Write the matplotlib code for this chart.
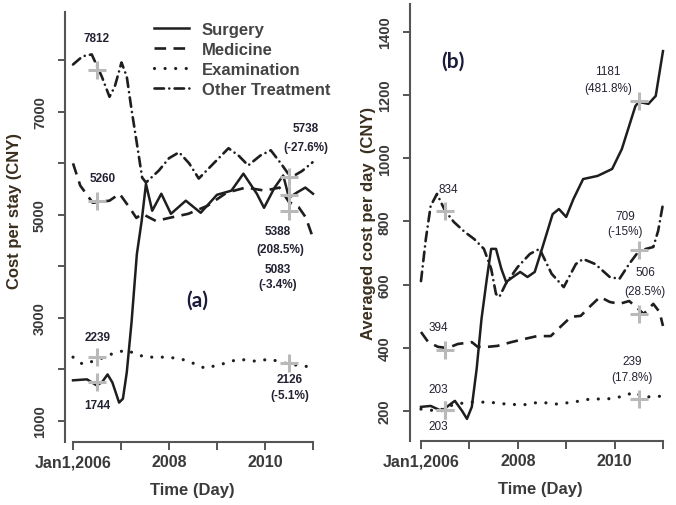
import matplotlib
matplotlib.use('Agg')
import matplotlib.pyplot as plt

plt.rcParams['font.family'] = ['Liberation Sans', 'DejaVu Sans']

# ---- panel (a): cost per stay (CNY) ----
a_surg_t = [2006.0, 2006.29, 2006.49, 2006.6, 2006.72, 2006.82, 2006.96, 2007.04, 2007.12,
            2007.22, 2007.33, 2007.43, 2007.52, 2007.65, 2007.84, 2008.04, 2008.35, 2008.66,
            2009.0, 2009.3, 2009.55, 2009.83, 2009.98, 2010.2, 2010.38, 2010.5, 2010.66,
            2010.84, 2011.0]
a_surg_v = [1786, 1805, 1690, 1745, 1900, 1745, 1354, 1430, 1940, 2920, 4236, 4880, 5600,
            5080, 5410, 5020, 5275, 5040, 5390, 5470, 5800, 5410, 5137, 5530, 5765, 5333,
            5430, 5530, 5410]
a_med_t = [2006.0, 2006.15, 2006.41, 2006.76, 2006.97, 2007.18, 2007.32, 2007.44, 2007.73,
           2008.0, 2008.4, 2008.8, 2009.2, 2009.6, 2010.0, 2010.3, 2010.5, 2010.7, 2010.85,
           2011.0]
a_med_v = [6000, 5570, 5235, 5275, 5410, 5137, 4940, 5020, 4880, 4940, 5020, 5175, 5430,
           5530, 5470, 5530, 5250, 5150, 4950, 4550]
a_exam_t = [2006.0, 2006.2, 2006.5, 2006.8, 2007.1, 2007.5, 2008.0, 2008.35, 2008.75,
            2009.1, 2009.45, 2009.8, 2010.1, 2010.5, 2011.0]
a_exam_v = [2236, 2100, 2178, 2295, 2374, 2236, 2236, 2178, 2021, 2100, 2197, 2158, 2197,
            2100, 2040]
a_oth_t = [2006.0, 2006.2, 2006.39, 2006.6, 2006.76, 2006.87, 2007.01, 2007.12, 2007.22,
           2007.33, 2007.44, 2007.52, 2007.79, 2008.0, 2008.21, 2008.42, 2008.62, 2008.93,
           2009.24, 2009.45, 2009.65, 2009.9, 2010.12, 2010.33, 2010.54, 2010.77, 2010.99]
a_oth_v = [7920, 8080, 8116, 7685, 7293, 7490, 7960, 7685, 7040, 6390, 5725, 5627, 5862,
           6100, 6215, 6000, 5705, 6000, 6294, 6150, 5960, 6150, 6254, 6000, 5725, 5850, 6020]
a_mark_t = [2006.5, 2006.5, 2006.5, 2006.5, 2010.5, 2010.5, 2010.5, 2010.5]
a_mark_v = [7812, 5260, 2239, 1744, 5738, 5388, 5083, 2126]

# ---- panel (b): averaged cost per day (CNY) ----
b_surg_t = [2006.0, 2006.2, 2006.43, 2006.56, 2006.7, 2006.85, 2006.95, 2007.05, 2007.15,
            2007.25, 2007.36, 2007.45, 2007.55, 2007.66, 2007.76, 2007.9, 2008.05, 2008.2,
            2008.35, 2008.5, 2008.72, 2008.85, 2009.0, 2009.15, 2009.35, 2009.65, 2009.95,
            2010.15, 2010.43, 2010.5, 2010.7, 2010.85, 2011.0]
b_surg_v = [213, 216, 200, 216, 232, 200, 175, 213, 333, 491, 618, 713, 713, 650, 608, 624,
            640, 624, 640, 713, 823, 839, 814, 871, 934, 944, 966, 1029, 1165, 1178, 1172,
            1197, 1339]
b_med_t = [2006.0, 2006.15, 2006.35, 2006.55, 2006.76, 2007.05, 2007.17, 2007.38, 2007.58,
           2007.87, 2008.14, 2008.4, 2008.68, 2008.9, 2009.1, 2009.3, 2009.5, 2009.7, 2009.9,
           2010.1, 2010.3, 2010.45, 2010.6, 2010.8, 2010.93, 2011.0]
b_med_v = [450, 418, 403, 399, 412, 418, 403, 403, 406, 418, 428, 437, 437, 469, 498, 501,
           532, 561, 545, 539, 548, 529, 507, 539, 513, 469]
b_exam_t = [2006.0, 2006.35, 2006.7, 2007.05, 2007.4, 2007.75, 2008.1, 2008.45, 2008.8,
            2009.15, 2009.5, 2009.85, 2010.2, 2010.4, 2010.6, 2011.0]
b_exam_v = [206, 200, 222, 228, 228, 222, 219, 228, 222, 228, 238, 238, 247, 260, 244, 247]
b_oth_t = [2006.0, 2006.1, 2006.2, 2006.33, 2006.5, 2006.68, 2006.9, 2007.1, 2007.3, 2007.45,
           2007.55, 2007.62, 2007.75, 2008.0, 2008.25, 2008.45, 2008.7, 2008.95, 2009.2,
           2009.35, 2009.6, 2009.9, 2010.1, 2010.3, 2010.5, 2010.65, 2010.8, 2010.9, 2011.0]
b_oth_v = [611, 744, 849, 887, 833, 798, 767, 744, 713, 650, 570, 561, 602, 656, 697, 713,
           634, 592, 665, 681, 665, 624, 618, 665, 706, 713, 719, 770, 855]
b_mark_t = [2006.5, 2006.5, 2006.5, 2006.5, 2010.5, 2010.5, 2010.5, 2010.5]
b_mark_v = [834, 394, 203, 203, 1181, 709, 506, 239]

series_names = ['Surgery', 'Medicine', 'Examination', 'Other Treatment']
years = [2006, 2007, 2008, 2009, 2010, 2011]
year_labels = ['Jan1,2006', '', '2008', '', '2010', '']

INK = '#1e1e1e'
TXT = '#222233'
AX = '#555555'
LBL = '#3a3a3a'
CROSS = '#b9b9b9'

styles = [
    dict(ls='-', lw=1.8),
    dict(ls=(0, (4.4, 2.8)), lw=1.9),
    dict(ls=(0, (0.01, 3.3)), lw=2.3, dash_capstyle='round'),
    dict(ls=(0, (3.6, 2.0, 0.01, 2.0)), lw=1.9, dash_capstyle='round'),
]


def style_axes(ax, ylabel, yticks, ylabels):
    for s in ('top', 'right'):
        ax.spines[s].set_visible(False)
    ax.spines['left'].set_color(AX)
    ax.spines['left'].set_linewidth(1.5)
    ax.spines['bottom'].set_color(AX)
    ax.spines['bottom'].set_linewidth(1.5)
    ax.spines['bottom'].set_bounds(2006, 2011)
    ax.set_xticks(years)
    ax.set_xticklabels(year_labels, fontsize=11.5, color=LBL, fontweight='bold')
    ax.set_yticks(yticks)
    ax.set_yticklabels(ylabels, fontsize=10.5, color=LBL, fontweight='bold')
    for lbl in ax.get_yticklabels():
        lbl.set_rotation(90)
        lbl.set_va('center')
    ax.tick_params(axis='x', direction='out', length=6, width=1.4, color=AX, pad=3)
    ax.tick_params(axis='y', direction='out', length=5, width=1.4, color=AX, pad=8)
    ax.set_xlabel('Time (Day)', fontsize=12, color=LBL, fontweight='bold', labelpad=9)
    ax.set_ylabel(ylabel, fontsize=12, color='#3a2f1e', fontweight='bold')


def draw_series(ax, data):
    for (t, v), st, name in zip(data, styles, series_names):
        ax.plot(t, v, color=INK, label=name, **st)


fig = plt.figure(figsize=(6.76, 5.06), dpi=100)

# panel (a)
ax1 = fig.add_axes([65 / 676, 63 / 506, 255 / 676, 430 / 506])
draw_series(ax1, [(a_surg_t, a_surg_v), (a_med_t, a_med_v),
                  (a_exam_t, a_exam_v), (a_oth_t, a_oth_v)])
ax1.plot(a_mark_t, a_mark_v, '+', color=CROSS, ms=13, mew=2.2, zorder=5)
ax1.set_xlim(2005.833, 2011.146)
ax1.set_ylim(588, 8940)
style_axes(ax1, 'Cost per stay (CNY)', list(range(1000, 8001, 1000)),
           ['1000', '', '3000', '', '5000', '', '7000', ''])
ax1.yaxis.set_label_coords(-0.168, 0.54)

ann_a = [
    ('7812', 2006.5, 8430), ('5260', 2006.62, 5725),
    ('5738', 2010.85, 6686), ('(-27.6%)', 2010.85, 6313),
    ('5388', 2010.27, 4686), ('(208.5%)', 2010.31, 4334),
    ('5083', 2010.27, 3942), ('(-3.4%)', 2010.27, 3648),
    ('2239', 2006.52, 2628), ('1744', 2006.5, 1315),
    ('2126', 2010.52, 1805), ('(-5.1%)', 2010.52, 1492),
]
for s, x, y in ann_a:
    ax1.text(x, y, s, fontsize=8.5, color=TXT, ha='center', va='center', fontweight='bold')
ax1.text(2008.58, 3354, '(a)', fontsize=15, fontweight='bold', color='#1a1a3a',
         family='Lato', ha='center', va='center')

leg = ax1.legend(loc='upper left', bbox_to_anchor=(154 / 676, 1 - 23 / 506),
                 bbox_transform=fig.transFigure, frameon=False,
                 prop={'size': 12, 'weight': 'bold'},
                 handlelength=2.1, handletextpad=0.75, labelspacing=0.3,
                 borderaxespad=0, borderpad=0)
for t in leg.get_texts():
    t.set_color('#444444')

# panel (b)
ax2 = fig.add_axes([410 / 676, 64 / 506, 260 / 676, 437 / 506])
draw_series(ax2, [(b_surg_t, b_surg_v), (b_med_t, b_med_v),
                  (b_exam_t, b_exam_v), (b_oth_t, b_oth_v)])
ax2.plot(b_mark_t, b_mark_v, '+', color=CROSS, ms=13, mew=2.2, zorder=5)
ax2.set_xlim(2005.773, 2011.145)
ax2.set_ylim(105, 1488)
bt = list(range(200, 1401, 200))
style_axes(ax2, 'Averaged cost per day  (CNY)', bt, [str(v) for v in bt])
ax2.yaxis.set_label_coords(-0.132, 0.5)

ann_b = [
    ('834', 2006.56, 903),
    ('1181', 2009.86, 1276), ('(481.8%)', 2009.86, 1222),
    ('709', 2010.21, 817), ('(-15%)', 2010.21, 770),
    ('506', 2010.63, 640), ('(28.5%)', 2010.63, 580),
    ('394', 2006.35, 466),
    ('203', 2006.35, 270), ('203', 2006.35, 153),
    ('239', 2010.36, 358), ('(17.8%)', 2010.36, 308),
]
for s, x, y in ann_b:
    ax2.text(x, y, s, fontsize=8.5, color=TXT, ha='center', va='center')
ax2.text(2006.66, 1308, '(b)', fontsize=15, fontweight='bold', color='#1a1a3a',
         family='Lato', ha='center', va='center')

fig.savefig('out.png', dpi=100)
